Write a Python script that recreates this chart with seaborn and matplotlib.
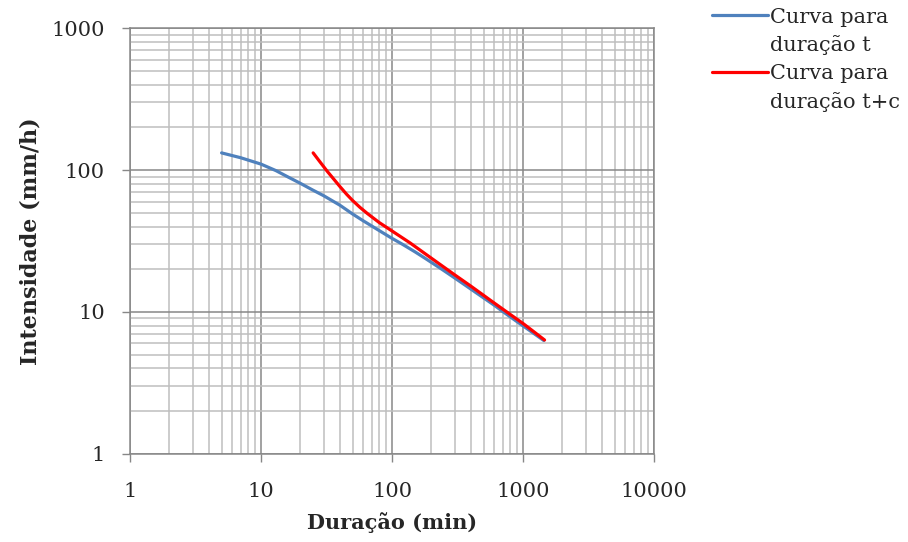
import pandas as pd
import seaborn as sns
import matplotlib.pyplot as plt
from matplotlib.lines import Line2D
from matplotlib.ticker import LogLocator, NullFormatter, FixedLocator, FixedFormatter

sns.set_style("white")
plt.rcParams["font.family"] = ["DejaVu Serif"]

# curve for duration t
dur_t = [5, 7, 10, 13, 16, 20, 25, 30, 40, 50, 60, 80, 100, 120, 150, 180,
         240, 300, 360, 480, 600, 720, 900, 1080, 1440]
int_t = [132, 122, 110, 99, 89.5, 80.5, 72, 66, 56.5, 49, 44, 37.4, 33.0, 30.0, 26.5, 23.8,
         20.0, 17.4, 15.5, 12.9, 11.2, 9.9, 8.55, 7.6, 6.3]

# curve for duration t+c
dur_tc = [25, 28, 32, 36, 40, 45, 50, 57, 65, 80, 100, 137, 200, 300, 400, 500,
          600, 800, 1000, 1200, 1460]
int_tc = [132, 115, 98, 86, 76.5, 67.5, 61, 54.5, 49.3, 42.6, 37.2, 30.7, 23.9, 18.3, 15.2, 13.1,
          11.6, 9.6, 8.3, 7.3, 6.35]

labels_serie = ["Curva para duração t", "Curva para duração t+c"]
x_ticks = [1, 10, 100, 1000, 10000]
y_ticks = [1, 10, 100, 1000]
colors = ["#4F81BD", "#FF0000"]

df = pd.concat([
    pd.DataFrame({"dur": dur_t, "int": int_t, "serie": labels_serie[0]}),
    pd.DataFrame({"dur": dur_tc, "int": int_tc, "serie": labels_serie[1]}),
])

fig, ax = plt.subplots(figsize=(9.08, 5.42), dpi=100)
fig.subplots_adjust(left=0.1432, right=0.7203, top=0.9483, bottom=0.1624)

sns.lineplot(data=df, x="dur", y="int", hue="serie", sort=False,
             palette=colors, lw=2.3, ax=ax, estimator=None, legend=False)

ax.set_xscale("log")
ax.set_yscale("log")
ax.set_xlim(1, 10000)
ax.set_ylim(1, 1000)

ax.xaxis.set_major_locator(FixedLocator(x_ticks))
ax.xaxis.set_major_formatter(FixedFormatter([str(v) for v in x_ticks]))
ax.yaxis.set_major_locator(FixedLocator(y_ticks))
ax.yaxis.set_major_formatter(FixedFormatter([str(v) for v in y_ticks]))
for axis in (ax.xaxis, ax.yaxis):
    axis.set_minor_locator(LogLocator(base=10, subs=range(2, 10), numticks=20))
    axis.set_minor_formatter(NullFormatter())

ax.grid(which="major", color="#878787", lw=1.1)
ax.grid(which="minor", color="#BEBEBE", lw=1.1)
ax.set_axisbelow(True)
for s in ax.spines.values():
    s.set_color("#878787")
    s.set_linewidth(1.1)

ax.tick_params(axis="both", which="major", length=6, width=1, color="#878787",
               labelsize=15, direction="out")
ax.tick_params(axis="x", which="major", pad=14, bottom=True)
ax.tick_params(axis="y", which="major", pad=12, left=True)
ax.tick_params(which="minor", length=0)

ax.set_xlabel("Duração (min)", fontsize=15, fontweight="bold", labelpad=8)
ax.set_ylabel("Intensidade (mm/h)", fontsize=16, fontweight="bold", labelpad=7)

# legend: first row with the line, second row wrapped text
blank = Line2D([], [], color="none")
handles = [Line2D([], [], color=colors[0], lw=2.3), blank,
           Line2D([], [], color=colors[1], lw=2.3), blank]
leg_labels = ["Curva para", "duração t", "Curva para", "duração t+c"]
fig.legend(handles, leg_labels, loc="upper left", bbox_to_anchor=(0.784, 0.986),
           frameon=False, fontsize=15, handlelength=2.7, handletextpad=0.1,
           labelspacing=0.42, borderaxespad=0, borderpad=0)

plt.savefig("out.png", dpi=100)
